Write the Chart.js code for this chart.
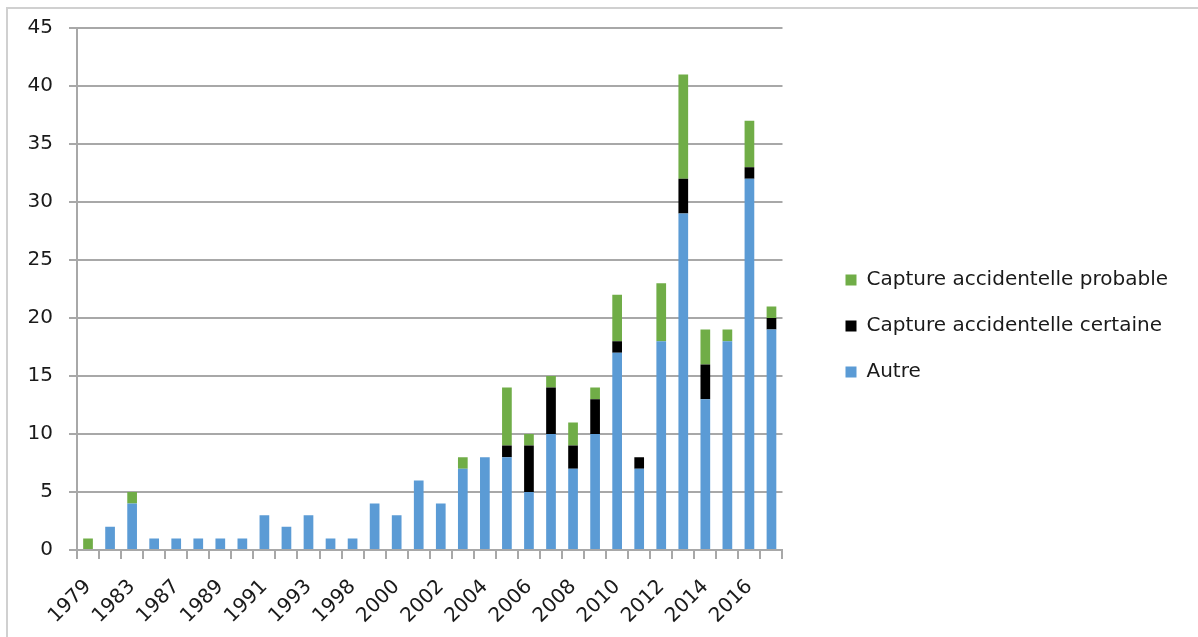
<!DOCTYPE html>
<html>
<head>
<meta charset="utf-8">
<script src="https://cdn.jsdelivr.net/npm/chart.js@4/dist/chart.umd.min.js"></script>
<style>
  html, body { margin: 0; padding: 0; background: #ffffff; }
  #wrap { position: relative; width: 1198px; height: 637px; overflow: hidden; }
  #frame { position: absolute; left: 6px; top: 7px; width: 1300px; height: 700px;
           border-left: 2px solid #d0d0d0; border-top: 2px solid #d0d0d0; }
  canvas { position: absolute; left: 0; top: 0; }
</style>
</head>
<body>
<div id="wrap">
  <div id="frame"></div>
  <canvas id="c" width="1198" height="637"></canvas>
</div>
<script>
// Categories (every other one is labelled on the axis)
const years = ['1979','1981','1983','1985','1987','1988','1989','1990','1991','1992','1993','1995',
               '1998','1999','2000','2001','2002','2003','2004','2005','2006','2007','2008','2009',
               '2010','2011','2012','2013','2014','2015','2016','2017'];

// Series values
const autre    = [0,2,4,1,1,1,1,1,3,2,3,1,1,4,3,6,4,7,8,8,5,10,7,10,17,7,18,29,13,18,32,19];
const certaine = [0,0,0,0,0,0,0,0,0,0,0,0,0,0,0,0,0,0,0,1,4,4,2,3,1,1,0,3,3,0,1,1];
const probable = [1,0,1,0,0,0,0,0,0,0,0,0,0,0,0,0,0,1,0,5,1,1,2,1,4,0,5,9,3,1,4,1];

// Y axis ticks
const yMin = 0, yMax = 45, yStep = 5;

const seriesNames = ['Autre', 'Capture accidentelle certaine', 'Capture accidentelle probable'];

const FONT = 'DejaVu Sans';
const FSIZE = 20;
const GRID = '#a8a8a8';
const TEXT = '#1a1a1a';

// Legend geometry: legend box left edge should sit at x = 819 (items at 819 + padding)
const LEG_PAD = 26, LEG_BOX = 11, LEG_LEFT = 819;
const mctx = document.createElement('canvas').getContext('2d');
mctx.font = FSIZE + 'px "' + FONT + '"';
const maxText = Math.max(...seriesNames.map(s => mctx.measureText(s).width));
const legendW = Math.ceil(LEG_PAD + LEG_BOX + FSIZE / 2 + maxText + 10);
const padRight = Math.max(0, 1198 - LEG_LEFT - legendW);
const padBottom = 11;

new Chart(document.getElementById('c'), {
  type: 'bar',
  data: {
    labels: years,
    datasets: [
      { label: seriesNames[0], data: autre,    backgroundColor: '#5B9BD5' },
      { label: seriesNames[1], data: certaine, backgroundColor: '#000000' },
      { label: seriesNames[2], data: probable, backgroundColor: '#70AD47' }
    ]
  },
  options: {
    responsive: false,
    animation: false,
    devicePixelRatio: 1,
    datasets: { bar: { categoryPercentage: 1.0, barPercentage: 0.44, borderWidth: 0 } },
    layout: { padding: { left: 0, top: 26, right: padRight, bottom: padBottom } },
    plugins: {
      tooltip: { enabled: false },
      legend: {
        position: 'right',
        reverse: true,
        maxWidth: legendW,
        labels: {
          boxWidth: LEG_BOX, boxHeight: LEG_BOX, padding: LEG_PAD,
          color: TEXT,
          font: { family: FONT, size: FSIZE }
        }
      }
    },
    scales: {
      x: {
        stacked: true,
        grid: { display: true, offset: true, drawOnChartArea: false, drawTicks: true, tickLength: 9, color: GRID, lineWidth: 2 },
        border: { display: true, color: GRID, width: 2 },
        ticks: {
          autoSkip: false, minRotation: 45, maxRotation: 45, padding: 16,
          color: TEXT, font: { family: FONT, size: FSIZE },
          callback: function (val, idx) { return idx % 2 === 0 ? this.getLabelForValue(val) : ''; }
        },
        afterFit: s => { s.height = 87 - padBottom; }
      },
      y: {
        stacked: true,
        min: yMin, max: yMax,
        grid: { color: GRID, lineWidth: 2, drawTicks: true, tickLength: 8 },
        border: { display: true, color: GRID, width: 2 },
        ticks: { stepSize: yStep, padding: 16, color: TEXT, font: { family: FONT, size: FSIZE } },
        afterFit: s => { s.width = 77; }
      },
      y2: {
        position: 'right',
        display: true,
        grid: { display: false, drawTicks: false },
        border: { display: false },
        ticks: { display: false },
        afterFit: s => { s.width = 37; }
      }
    }
  }
});
</script>
</body>
</html>
